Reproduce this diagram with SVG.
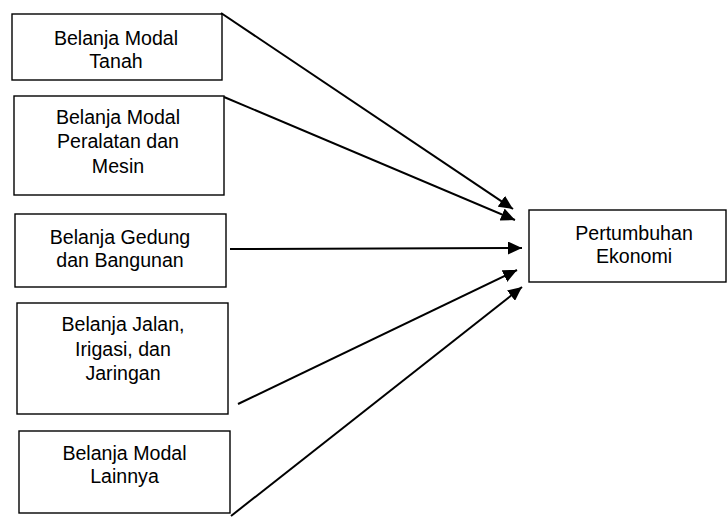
<svg xmlns="http://www.w3.org/2000/svg" width="727" height="517" viewBox="0 0 727 517">
<style>
.box{fill:#fff;stroke:#000;stroke-width:1.4}
.t{font-family:"Liberation Sans",Arial,sans-serif;font-size:19.6px;fill:#000;text-anchor:middle}
.c{stroke:#000;stroke-width:2;fill:none;marker-end:url(#ah)}
</style>
<defs>
<marker id="ah" markerUnits="userSpaceOnUse" markerWidth="15" markerHeight="13" refX="14" refY="6.5" orient="auto">
<path d="M0,0 L14,6.5 L0,13 z" fill="#000"/>
</marker>
</defs>
<rect width="727" height="517" fill="#fff"/>
<g id="n1"><rect class="box" x="12" y="14" width="210" height="66"/><text class="t" x="116" y="45">Belanja Modal</text><text class="t" x="116" y="68">Tanah</text></g>
<g id="n2"><rect class="box" x="14" y="96" width="210" height="99"/><text class="t" x="118" y="124">Belanja Modal</text><text class="t" x="118" y="148">Peralatan dan</text><text class="t" x="118" y="173">Mesin</text></g>
<g id="n3"><rect class="box" x="15" y="214" width="211" height="73"/><text class="t" x="120" y="244">Belanja Gedung</text><text class="t" x="120" y="267">dan Bangunan</text></g>
<g id="n4"><rect class="box" x="17" y="303" width="211" height="111"/><text class="t" x="123" y="331">Belanja Jalan,</text><text class="t" x="123" y="356">Irigasi, dan</text><text class="t" x="123" y="380">Jaringan</text></g>
<g id="n5"><rect class="box" x="19" y="431" width="211" height="82"/><text class="t" x="124.5" y="460">Belanja Modal</text><text class="t" x="124.5" y="483">Lainnya</text></g>
<g id="target"><rect class="box" x="529" y="210" width="197" height="72"/><text class="t" x="634" y="240">Pertumbuhan</text><text class="t" x="634" y="263">Ekonomi</text></g>
<g id="connectors">
<line class="c" x1="221" y1="13" x2="513" y2="209"/>
<line class="c" x1="224" y1="97" x2="515" y2="220"/>
<line class="c" x1="230" y1="249" x2="522" y2="248"/>
<line class="c" x1="238" y1="404" x2="517" y2="270"/>
<line class="c" x1="231" y1="516" x2="522" y2="287"/>
</g>
</svg>
